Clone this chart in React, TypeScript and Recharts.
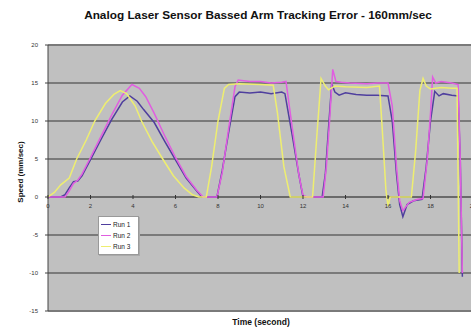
import React from "react";
import { LineChart, Line, XAxis, YAxis, CartesianGrid, Legend, ReferenceLine } from "recharts";

const TITLE = "Analog Laser Sensor Bassed Arm Tracking Error - 160mm/sec";
const X_LABEL = "Time (second)";
const Y_LABEL = "Speed (mm/sec)";
const SERIES_NAMES = ["Run 1", "Run 2", "Run 3"];
const SERIES_COLORS = ["#4f3f9e", "#e05ee0", "#eeee70"];
const X_TICKS = [0, 2, 4, 6, 8, 10, 12, 14, 16, 18, 20];
const Y_TICKS = [-15, -10, -5, 0, 5, 10, 15, 20];

const run1Time = [0, 0.6, 0.8, 1.0, 1.2, 1.4, 1.6, 2.0, 2.5, 3.0, 3.5, 3.85, 4.2, 4.5, 5.0, 5.5, 6.0, 6.5, 7.0, 7.25, 7.95, 8.2, 8.5, 8.8, 9.0, 9.5, 10, 10.5, 11, 11.15, 11.5, 11.8, 12.0, 12.9, 13.05, 13.2, 13.35, 13.5, 13.7, 14, 14.5, 15, 15.5, 16.0, 16.2, 16.4, 16.55, 16.7, 16.9, 17.2, 17.6, 17.8, 18.0, 18.2, 18.4, 18.6, 19, 19.3, 19.4, 19.5];
const run1Speed = [0, 0, 0.3, 1.2, 2.0, 2.1, 2.8, 4.9, 7.6, 10.2, 12.5, 13.3, 12.6, 11.5, 9.8, 7.3, 4.9, 2.5, 0.8, 0, 0, 3.5, 8.5, 13.2, 13.8, 13.7, 13.8, 13.6, 13.8, 13.6, 8, 3, 0, 0, 3, 9, 14.9, 13.8, 13.4, 13.7, 13.5, 13.4, 13.4, 13.3, 10, 3, -1, -2.6, -1, -0.5, -0.3, 4, 10, 13.9, 13.3, 13.6, 13.4, 13.3, 5, -10.5];

const run2Time = [0, 0.8, 1.0, 1.2, 1.4, 1.6, 2.0, 2.5, 3.0, 3.5, 3.95, 4.3, 4.6, 5.0, 5.5, 6.0, 6.5, 7.0, 7.3, 7.95, 8.2, 8.5, 8.8, 8.95, 9.5, 10, 10.5, 11, 11.2, 11.5, 11.8, 12.0, 12.2, 12.95, 13.1, 13.25, 13.4, 13.55, 13.8, 14.2, 15, 15.5, 16.0, 16.2, 16.4, 16.55, 16.7, 17, 17.4, 17.65, 17.85, 18.0, 18.1, 18.25, 18.5, 19, 19.3, 19.4, 19.5];
const run2Speed = [0, 0, 0.8, 1.8, 2.2, 3.0, 5.2, 8.0, 10.8, 13.4, 14.8, 14.3, 13.2, 11.0, 8.0, 5.2, 2.7, 0.9, 0, 0, 3.2, 9, 14.5, 15.4, 15.2, 15.2, 15.0, 15.1, 15.2, 9, 3, 0.2, 0, 0, 4, 10, 16.8, 15.2, 15.1, 15.0, 14.9, 15.0, 15.0, 12, 4, -0.5, -1.8, -0.7, -0.3, -0.2, 5, 11, 15.8, 15.0, 15.2, 15.0, 14.8, 5, -10];

const run3Time = [0, 0.3, 0.6, 1.0, 1.35, 1.8, 2.2, 2.7, 3.1, 3.4, 3.7, 3.9, 4.1, 4.4, 4.9, 5.4, 5.9, 6.4, 6.8, 7.1, 7.45, 7.7, 8.0, 8.3, 8.5, 9, 10, 10.6, 10.8, 11.1, 11.4, 12.45, 12.65, 12.85, 13.05, 13.2, 13.5, 14, 15, 15.6, 15.75, 15.9, 16.0, 16.1, 17.1, 17.3, 17.5, 17.65, 17.8, 18.0, 18.5, 19, 19.25, 19.35];
const run3Speed = [0, 0.6, 1.6, 2.5, 5, 7.5, 10, 12.3, 13.5, 14.0, 13.6, 12.8, 12.0, 10, 7.3, 5, 2.8, 1.2, 0.3, 0, 0, 4, 10, 14.3, 14.8, 14.9, 14.8, 14.7, 11, 4, 0, 0, 8, 15.6, 14.6, 14.1, 14.6, 14.5, 14.4, 14.6, 8, 1, -1.2, 0, 0, 6, 14, 15.6, 14.6, 14.2, 14.4, 14.3, 14.3, -10];

const runs = [
  run1Time.map((t, i) => ({ t, v: run1Speed[i] })),
  run2Time.map((t, i) => ({ t, v: run2Speed[i] })),
  run3Time.map((t, i) => ({ t, v: run3Speed[i] })),
];

const CHART_W = 480;
const CHART_H = 330;
const MARGIN = { top: 45, right: 7, bottom: 18, left: 0 };
const X_AXIS_H = 1;
const Y_MIN = -15;
const Y_MAX = 20;
const PLOT_H = CHART_H - MARGIN.top - MARGIN.bottom - X_AXIS_H;
const ZERO_Y = MARGIN.top + (PLOT_H * (Y_MAX - 0)) / (Y_MAX - Y_MIN);

const FONT = "'Liberation Sans', Arial, sans-serif";

const renderXTick = (props: any) => {
  const { x, payload, index } = props;
  return (
    <g key={`xt-${index}`}>
      <line x1={x} x2={x} y1={ZERO_Y - 2} y2={ZERO_Y + 2} stroke="#333" strokeWidth={1} />
      <text x={x} y={ZERO_Y + 11} textAnchor="middle" fontSize={6} fill="#333" fontFamily={FONT}>
        {payload.value}
      </text>
    </g>
  );
};

const LegendBox = () => (
  <div
    style={{
      background: "#fff",
      border: "1px solid #999",
      width: 37,
      padding: "2px 0 2px 2px",
      fontFamily: FONT,
      fontSize: 6.5,
      color: "#222",
      boxShadow: "1px 1px 0 #aaa",
    }}
  >
    {SERIES_NAMES.map((n, i) => (
      <div key={n} style={{ display: "flex", alignItems: "center", height: 11 }}>
        <div style={{ width: 10, height: 1.5, background: SERIES_COLORS[i], marginRight: 2 }} />
        <span>{n}</span>
      </div>
    ))}
  </div>
);

export default function App() {
  return (
    <div style={{ position: "absolute", left: 0, top: 0, width: 471, height: 330, overflow: "hidden", background: "#fff" }}>
      <div
        style={{
          position: "absolute",
          left: 0,
          width: 516,
          top: 8,
          textAlign: "center",
          fontFamily: FONT,
          fontWeight: "bold",
          fontSize: 11.8,
          color: "#111",
          whiteSpace: "nowrap",
        }}
      >
        {TITLE}
      </div>
      <div
        style={{
          position: "absolute",
          left: 0,
          width: 522,
          top: 317,
          textAlign: "center",
          fontFamily: FONT,
          fontWeight: "bold",
          fontSize: 8.5,
          color: "#111",
        }}
      >
        {X_LABEL}
      </div>
      <div
        style={{
          position: "absolute",
          left: 20,
          top: 172,
          transform: "translate(-50%, -50%) rotate(-90deg)",
          fontFamily: FONT,
          fontWeight: "bold",
          fontSize: 8,
          color: "#111",
          whiteSpace: "nowrap",
        }}
      >
        {Y_LABEL}
      </div>
      <div style={{ position: "absolute", left: 0, top: 0 }}>
        <LineChart width={CHART_W} height={CHART_H} margin={MARGIN}>
          <CartesianGrid vertical={false} horizontal={true} stroke="#7a7a7a" strokeWidth={2} fill="#c0c0c0" />
          <XAxis
            type="number"
            dataKey="t"
            domain={[0, 20]}
            ticks={X_TICKS}
            interval={0}
            allowDataOverflow
            axisLine={false}
            tickLine={false}
            height={X_AXIS_H}
            tick={renderXTick}
          />
          <YAxis
            type="number"
            domain={[Y_MIN, Y_MAX]}
            ticks={Y_TICKS}
            interval={0}
            width={48}
            tickSize={3}
            tickMargin={7}
            axisLine={{ stroke: "#444" }}
            tickLine={{ stroke: "#444" }}
            tick={{ fontSize: 6, fill: "#333", fontFamily: FONT }}
          />
          <ReferenceLine y={0} stroke="#6a6a6a" strokeWidth={2} />
          {runs.map((d, i) => (
            <Line
              key={SERIES_NAMES[i]}
              data={d}
              dataKey="v"
              name={SERIES_NAMES[i]}
              type="linear"
              stroke={SERIES_COLORS[i]}
              strokeWidth={1.5}
              dot={false}
              isAnimationActive={false}
            />
          ))}
          <Legend
            layout="vertical"
            align="center"
            verticalAlign="middle"
            wrapperStyle={{ left: 98, top: 216, width: 42 }}
            content={() => <LegendBox />}
          />
        </LineChart>
      </div>
    </div>
  );
}
